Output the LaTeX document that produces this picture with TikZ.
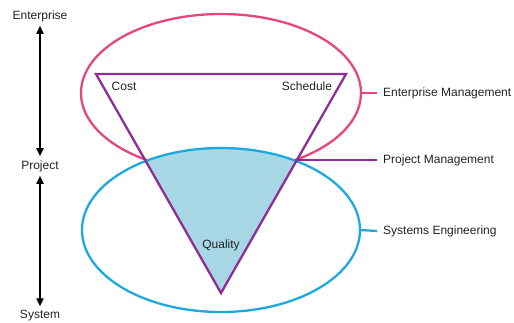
\documentclass[tikz,border=0pt]{standalone}
\usepackage{fontspec}
\setmainfont{Liberation Sans}
\usetikzlibrary{shapes.geometric,arrows.meta}
\definecolor{pinkc}{HTML}{E5467E}
\definecolor{bluec}{HTML}{1CA9E1}
\definecolor{purplec}{HTML}{8E2E94}
\definecolor{fillc}{HTML}{A7D7E5}
\definecolor{txt}{HTML}{222222}
\tikzset{
  lbl/.style={font=\fontsize{12}{14}\selectfont, text=txt, inner sep=0pt},
  sidelbl/.style={lbl, anchor=west},
  levellbl/.style={lbl, inner sep=4pt},
  ring/.style={ellipse, draw, line width=2.3pt, inner sep=0pt, outer sep=0pt},
  tri/.style={draw=purplec, line width=2.3pt, line join=miter},
  conn/.style={line width=2.3pt},
  vert/.style={line width=1.7pt, black, {Triangle[width=7pt,length=8pt]}-{Triangle[width=7pt,length=8pt]}},
}
\begin{document}
\begin{tikzpicture}[x=1pt,y=-1pt]
\useasboundingbox (0,0) rectangle (514,322);
% triangle corners
\coordinate (tl) at (96,74);
\coordinate (tr) at (346,74);
\coordinate (ap) at (221,293);
\coordinate (pm0) at (295,160);
% upper ellipse
\node[ring, draw=pinkc, minimum width=280pt, minimum height=158pt] (ent) at (221,93) {};
% shaded intersection
\begin{scope}
  \clip (tl) -- (tr) -- (ap) -- cycle;
  \fill[fillc] (221,230) ellipse [x radius=139, y radius=82];
\end{scope}
% lower ellipse
\node[ring, draw=bluec, minimum width=278pt, minimum height=164pt] (sys) at (221,230) {};
% triangle
\draw[tri] (tl) -- (tr) -- (ap) -- cycle;
% labels inside
\node[lbl] (cost) at (124,86) {Cost};
\node[lbl] (sched) at (307,86) {Schedule};
\node[lbl] (qual) at (221,245) {Quality};
% right labels
\node[sidelbl] (em) at (383,93) {Enterprise Management};
\node[sidelbl] (pm) at (383,160) {Project Management};
\node[sidelbl] (se) at (383,231) {Systems Engineering};
\coordinate (emc) at (377,93);
\coordinate (pmc) at (377,160);
\coordinate (sec) at (377,231);
\draw[conn, pinkc] (ent.east) -- (emc);
\draw[conn, purplec] (pm0) -- (pmc);
\draw[conn, bluec] (sys.east) -- (sec);
% left scale
\node[levellbl] (e) at (40,16) {Enterprise};
\node[levellbl] (p) at (40,166) {Project};
\node[levellbl] (s) at (40,316) {System};
\draw[vert] (e.south) -- (p.north);
\draw[vert] (p.south) -- (s.north);
\end{tikzpicture}
\end{document}
